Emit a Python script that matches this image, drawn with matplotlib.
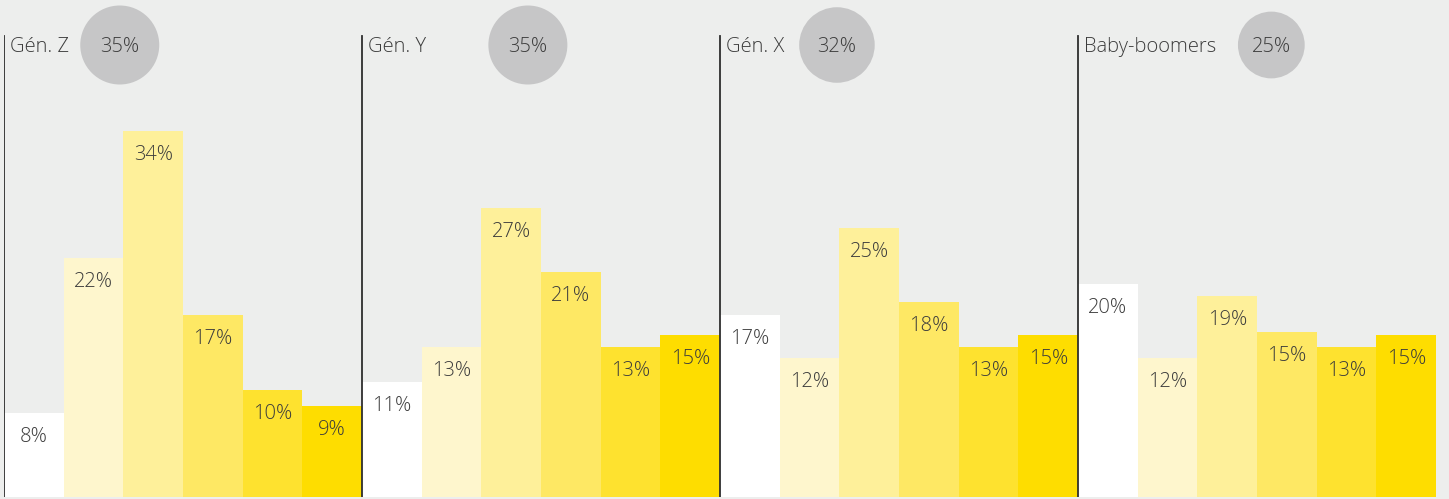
import matplotlib
matplotlib.use("Agg")
import matplotlib.pyplot as plt
from matplotlib import font_manager
import numpy as np

groups = ["Gén. Z", "Gén. Y", "Gén. X", "Baby-boomers"]
group_totals = [35, 35, 32, 25]
group_total_labels = ["35%", "35%", "32%", "25%"]
values = [
    [7.8, 22.2, 34.0, 16.9, 9.9, 8.5],
    [10.7, 13.9, 26.9, 20.9, 13.9, 15.1],
    [16.9, 12.9, 25.0, 18.1, 13.9, 15.1],
    [19.8, 12.9, 18.7, 15.3, 13.9, 15.1],
]
labels = [
    ["8%", "22%", "34%", "17%", "10%", "9%"],
    ["11%", "13%", "27%", "21%", "13%", "15%"],
    ["17%", "12%", "25%", "18%", "13%", "15%"],
    ["20%", "12%", "19%", "15%", "13%", "15%"],
]

bar_colors = ["#FFFFFF", "#FEF6CD", "#FEF09A", "#FEE864", "#FEE22F", "#FEDD00"]
bg = "#EDEEED"
txt = "#3C3C3C"
circle_offsets = [1.94, 2.78, 1.96, 3.24]  # circle centre, in bar units from panel start

fams = {}
for f in font_manager.fontManager.ttflist:
    fams.setdefault(f.name, []).append(f.weight)
font = "Lato"
weight = "normal"
for cand in ["Open Sans", "Lato", "Roboto", "Noto Sans"]:
    if cand in fams and any((isinstance(w, int) and w <= 300) or w in ("light", "extra light", "ultralight") for w in fams[cand]):
        font = cand
        weight = 300
        break

W, H = 1449, 499
fig = plt.figure(figsize=(W / 100, H / 100), dpi=100, facecolor=bg)
ax = fig.add_axes([4 / W, 2 / H, 1432 / W, 497 / H])
ax.set_facecolor(bg)
px_per_unit = 10.76
ax.set_xlim(0, 24)
ax.set_ylim(0, 497 / px_per_unit)
ax.axis("off")

fs = 14.5
for g, (name, vals, labs) in enumerate(zip(groups, values, labels)):
    x0 = g * 6
    xs = x0 + np.arange(6) + 0.5
    ax.bar(xs, vals, width=1.0, color=bar_colors, zorder=1)
    for x, v, l in zip(xs, vals, labs):
        ax.text(x, v - 24 / px_per_unit, l, ha="center", va="center",
                fontsize=fs, color=txt, family=font, weight=weight, zorder=3)
    ax.plot([x0, x0], [0, (497 - 36) / px_per_unit], color="#2E2E2E", lw=1.3, zorder=4)
    ax.text(x0 + 0.1, (497 - 47) / px_per_unit, name, ha="left", va="center", fontsize=fs,
            color=txt, family=font, weight=weight, zorder=3)
    r = 39.5 * np.sqrt(group_totals[g] / 35)
    ax.scatter([x0 + circle_offsets[g]], [(497 - 45) / px_per_unit], s=(2 * r * 0.72) ** 2,
               color="#C6C6C7", edgecolors="none", zorder=2)
    ax.text(x0 + circle_offsets[g], (497 - 47) / px_per_unit, group_total_labels[g],
            ha="center", va="center", fontsize=fs, color=txt, family=font, weight=weight, zorder=3)

fig.savefig("out.png", dpi=100, facecolor=bg)
